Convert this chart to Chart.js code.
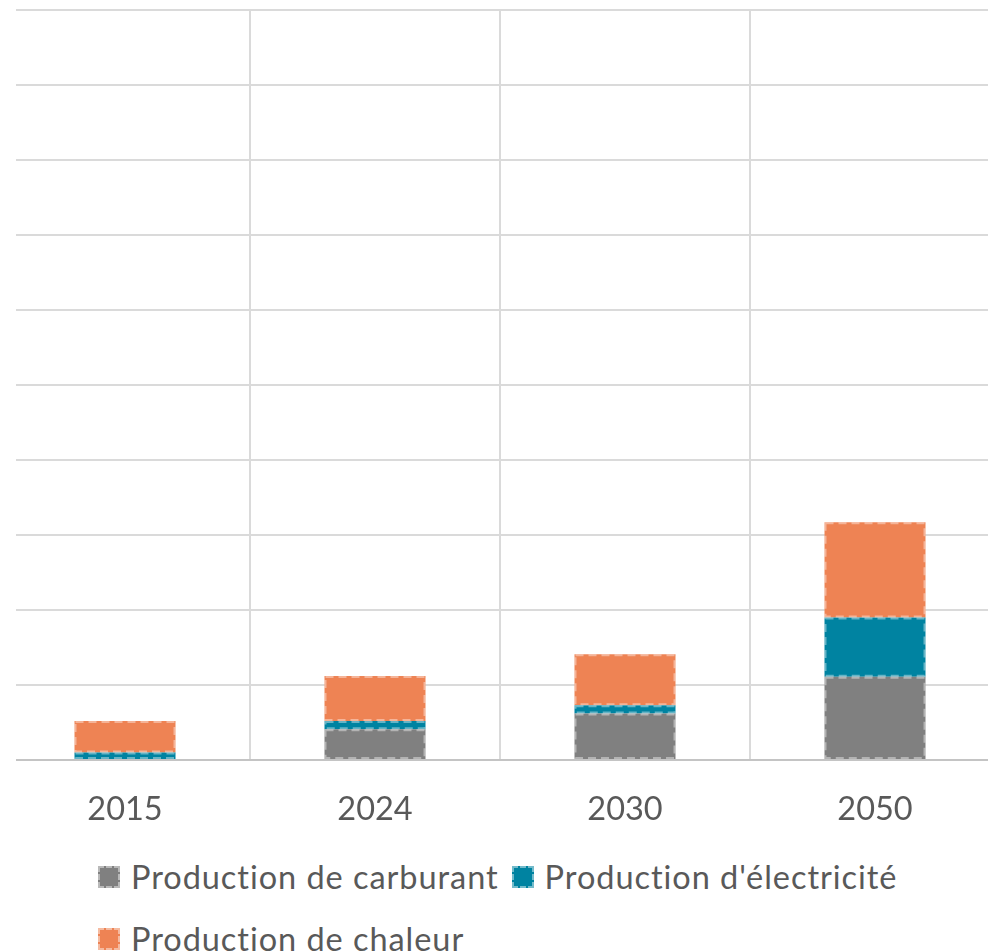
<!DOCTYPE html>
<html lang="fr">
<head>
<meta charset="utf-8">
<script src="https://cdn.jsdelivr.net/npm/chart.js@4/dist/chart.umd.min.js"></script>
<style>
  html, body { margin: 0; padding: 0; background: #ffffff; overflow: hidden; }
  #wrap { position: relative; width: 988px; height: 952px; overflow: hidden; }
  #box { position: absolute; left: 0; top: 0; width: 1000px; height: 850px; }
  #legend {
    position: absolute; left: 98px; top: 858px; width: 880px;
    display: flex; flex-wrap: wrap; row-gap: 23.6px; column-gap: 13px;
    font-family: Lato, "Open Sans", sans-serif; font-size: 32.5px; letter-spacing: 0.95px;
    color: #595959;
  }
  .item { display: flex; align-items: center; white-space: nowrap; line-height: 38px; height: 38px; }
  .swatch { width: 22px; height: 22px; box-sizing: border-box; margin-right: 11px;
            border: 2px dashed rgba(255,255,255,0.45); }
</style>
</head>
<body>
<div id="wrap">
  <div id="box"><canvas id="chart"></canvas></div>
  <div id="legend"></div>
</div>
<script>
// Years on the category axis
const years = ['2015', '2024', '2030', '2050'];

// Stacked components per year
const carburant   = [0.00, 0.41, 0.62, 1.11];
const electricite = [0.10, 0.11, 0.11, 0.79];
const chaleur     = [0.42, 0.60, 0.68, 1.27];

const seriesNames  = ['Production de carburant', "Production d'électricité", 'Production de chaleur'];
const seriesColors = ['#808080', '#0083A1', '#EE8354'];

const seriesValues = [carburant, electricite, chaleur];

// Dashed light outline drawn over each bar segment
const dashedOutline = {
  id: 'dashedOutline',
  beforeDatasetsDraw(chart) {
    // blank the strip left of the plot, where no grid is drawn
    const { ctx, chartArea } = chart;
    ctx.save();
    ctx.fillStyle = '#ffffff';
    ctx.fillRect(0, 0, 16, chartArea.bottom + 2);
    ctx.restore();
  },
  afterDatasetsDraw(chart) {
    const { ctx } = chart;
    ctx.save();
    ctx.setLineDash([8, 5]);
    ctx.lineWidth = 2;
    ctx.strokeStyle = 'rgba(255,255,255,0.4)';
    chart.data.datasets.forEach((ds, i) => {
      chart.getDatasetMeta(i).data.forEach((bar, j) => {
        if (!ds.data[j]) return;
        const p = bar.getProps(['x', 'y', 'base', 'width'], true);
        const left = p.x - p.width / 2 + 1;
        const top = Math.min(p.y, p.base) + 1;
        const h = Math.abs(p.base - p.y) - 2;
        ctx.strokeRect(left, top, p.width - 2, h);
      });
    });
    ctx.restore();
  }
};

const chart = new Chart(document.getElementById('chart'), {
  type: 'bar',
  data: {
    labels: years,
    datasets: seriesNames.map((name, i) => ({
      label: name,
      data: seriesValues[i],
      backgroundColor: seriesColors[i],
      borderWidth: 0,
      categoryPercentage: 1,
      barPercentage: 0.404
    }))
  },
  options: {
    responsive: true,
    maintainAspectRatio: false,
    animation: false,
    layout: { padding: { top: 10, left: 0, right: 0, bottom: 0 } },
    plugins: { legend: { display: false }, tooltip: { enabled: false } },
    scales: {
      x: {
        stacked: true,
        grid: { color: '#dadada', lineWidth: 2, drawTicks: false, offset: true },
        border: { color: '#c4c4c4', width: 2 },
        ticks: { color: '#595959', padding: 30, font: { family: 'Lato', size: 32.5 } },
        afterFit(scale) { scale.height = 90; }
      },
      y: {
        stacked: true,
        min: 0,
        max: 10,
        ticks: { display: false, stepSize: 1 },
        grid: { color: '#dadada', lineWidth: 2, drawTicks: false },
        border: { display: false },
        afterFit(scale) { scale.width = 0; }
      }
    }
  },
  plugins: [dashedOutline]
});

// Legend built from the same series
const legend = document.getElementById('legend');
seriesNames.forEach((name, i) => {
  const item = document.createElement('div');
  item.className = 'item';
  const sw = document.createElement('span');
  sw.className = 'swatch';
  sw.style.backgroundColor = seriesColors[i];
  const txt = document.createElement('span');
  txt.textContent = name;
  item.appendChild(sw);
  item.appendChild(txt);
  legend.appendChild(item);
});
</script>
</body>
</html>
